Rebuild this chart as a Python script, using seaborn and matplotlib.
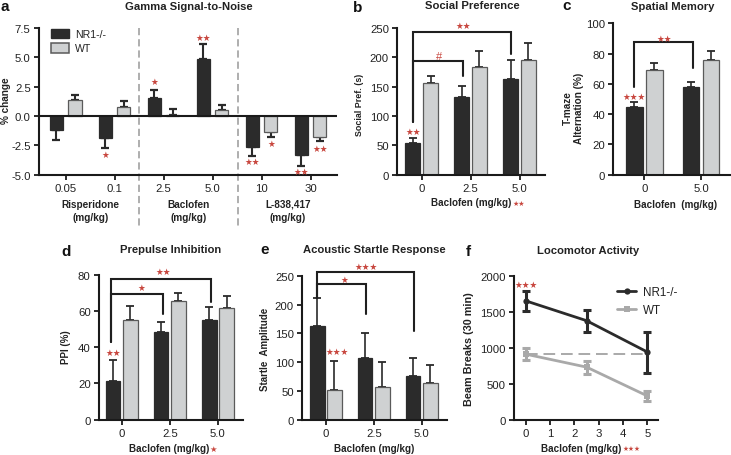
import matplotlib
matplotlib.use("Agg")
import matplotlib.pyplot as plt
import pandas as pd
import seaborn as sns

# ================= DATA =================
GROUPS = ["NR1-/-", "WT"]

a_doses = ["0.05", "0.1", "2.5", "5.0", "10", "30"]
a_nr1 = [-1.15, -1.85, 1.55, 4.9, -2.65, -3.3]
a_wt = [1.35, 0.8, 0.1, 0.55, -1.4, -1.75]
a_nr1_end = [-2.05, -2.75, 2.25, 6.1, -3.4, -4.25]
a_wt_end = [1.8, 1.3, 0.6, 0.9, -1.8, -2.15]
a_yticks = [-5.0, -2.5, 0.0, 2.5, 5.0, 7.5]

b_doses = ["0", "2.5", "5.0"]
b_nr1 = [54, 132, 163]
b_wt = [157, 183, 195]
b_nr1_end = [62, 152, 195]
b_wt_end = [168, 210, 225]
b_yticks = [0, 50, 100, 150, 200, 250]

c_doses = ["0", "5.0"]
c_nr1 = [44.5, 58]
c_wt = [69, 76]
c_nr1_end = [48, 61.5]
c_wt_end = [73.5, 81.5]
c_yticks = [0, 20, 40, 60, 80, 100]

d_doses = ["0", "2.5", "5.0"]
d_nr1 = [21.5, 48.5, 55]
d_wt = [55, 65.5, 61.5]
d_nr1_end = [33, 54, 62]
d_wt_end = [63, 70, 68]
d_yticks = [0, 20, 40, 60, 80]

e_doses = ["0", "2.5", "5.0"]
e_nr1 = [162, 108, 77]
e_wt = [52, 57, 64]
e_nr1_end = [212, 150, 108]
e_wt_end = [103, 100, 95]
e_yticks = [0, 50, 100, 150, 200, 250]

f_doses = [0, 2.5, 5]
f_nr1 = [1650, 1375, 940]
f_wt = [910, 730, 330]
f_nr1_low = [1510, 1215, 650]
f_nr1_high = [1790, 1530, 1225]
f_wt_low = [830, 640, 260]
f_wt_high = [990, 820, 400]
f_reference = 910
f_yticks = [0, 500, 1000, 1500, 2000]

# brackets: x-left, y-left-end, y-top, x-right, y-right-end
b_brackets = [(-0.18, 89, 244, 1.82, 205), (-0.18, 89, 193, 0.84, 168)]
c_brackets = [(-0.19, 58, 87.5, 0.85, 70.5)]
d_brackets = [(-0.22, 42.6, 77.6, 1.85, 64.7), (-0.22, 42.6, 69.3, 0.85, 58.3)]
e_brackets = [(-0.19, 212, 256, 1.83, 155), (-0.19, 212, 235, 0.84, 184)]

# significance marks: x, y, text
a_marks = [(0.81, -3.27, "★"), (1.81, 2.95, "★"), (2.81, 6.7, "★★"), (3.81, -3.9, "★★"),
           (4.19, -2.3, "★"), (4.81, -4.7, "★★"), (5.19, -2.73, "★★")]
b_marks = [(-0.18, 74, "★★"), (0.84, 254, "★★"), (0.35, 203, "#")]
c_marks = [(0.35, 90, "★★"), (-0.18, 52, "★★★")]
d_marks = [(-0.175, 37, "★★"), (0.41, 73, "★"), (0.86, 82, "★★")]
e_marks = [(0.84, 266, "★★★"), (0.395, 243, "★"), (0.23, 118, "★★★")]
f_marks = [(0, 1884, "★★★")]

# ================= STYLE =================
W, H = 731, 456
DARK = "#2b2b2b"
LIGHT = "#cfd1d2"
EDGE_WT = "#5a5a5a"
GREY_LINE = "#a9a9a9"
RED = "#c8473f"
TEXT = "#222222"
FONTS = ["Liberation Sans", "DejaVu Sans"]

sns.set_theme(style="ticks")
plt.rcParams["font.family"] = FONTS
plt.rcParams["axes.unicode_minus"] = False
plt.rcParams["text.color"] = TEXT

fig = plt.figure(figsize=(W / 100, H / 100), dpi=100, facecolor="white")


def make_axes(left, top, right, bottom):
    ax = fig.add_axes([left / W, 1 - bottom / H, (right - left) / W, (bottom - top) / H])
    ax.patch.set_alpha(0)
    return ax


def put_text(x, y, s, **kw):
    kw.setdefault("ha", "center")
    kw.setdefault("va", "center")
    kw.setdefault("color", TEXT)
    fig.text(x / W, 1 - y / H, s, **kw)


def style_axes(ax, yticks, ylim, xlim, ylabel, yl_x, yl_y, xlabel, xl_x, xl_y, fmt="{:g}", yl_size=7.0):
    ax.set_xlim(*xlim)
    ax.set_ylim(*ylim)
    ax.set_yticks(yticks)
    ax.set_yticklabels([fmt.format(t) for t in yticks])
    sns.despine(ax=ax)
    for side in ["left", "bottom"]:
        ax.spines[side].set_linewidth(1.5)
        ax.spines[side].set_color("#1a1a1a")
    ax.tick_params(axis="both", length=3.5, width=1.3, labelsize=8.2, pad=2.5,
                   color="#1a1a1a", labelcolor=TEXT)
    box = ax.get_position()
    l, r = box.x0 * W, box.x1 * W
    t, b = (1 - box.y1) * H, (1 - box.y0) * H
    ax.set_ylabel(ylabel, fontsize=yl_size, fontweight="bold", color=TEXT, linespacing=1.15, va="center")
    ax.yaxis.set_label_coords((yl_x - l) / (r - l), (b - yl_y) / (b - t))
    ax.set_xlabel(xlabel, fontsize=7.1, fontweight="bold", color=TEXT, linespacing=1.15, va="center")
    ax.xaxis.set_label_coords((xl_x - l) / (r - l), (b - xl_y) / (b - t))


def draw_bars(ax, doses, nr1, wt, nr1_end, wt_end, width, gap, err_lw=1.2):
    df = pd.DataFrame({
        "dose": list(doses) * 2,
        "value": list(nr1) + list(wt),
        "group": [GROUPS[0]] * len(doses) + [GROUPS[1]] * len(doses),
    })
    sns.barplot(data=df, x="dose", y="value", hue="group", order=doses, hue_order=GROUPS,
                palette=[DARK, LIGHT], width=width, gap=gap, errorbar=None, legend=False,
                saturation=1, ax=ax, zorder=2)
    for container, values, ends in zip(ax.containers, [nr1, wt], [nr1_end, wt_end]):
        for patch, v, end in zip(container, values, ends):
            patch.set_edgecolor(DARK if container is ax.containers[0] else EDGE_WT)
            patch.set_linewidth(0.9)
            low, high = max(v - end, 0), max(end - v, 0)
            ax.errorbar(patch.get_x() + patch.get_width() / 2, v, yerr=[[low], [high]],
                        color="#2a2a2a", capsize=3.2, elinewidth=err_lw, capthick=err_lw + 0.1, zorder=1)


def draw_brackets(ax, brackets):
    for x0, y0, top, x1, y1 in brackets:
        ax.plot([x0, x0, x1, x1], [y0, top, top, y1], color="#1f1f1f", lw=1.5,
                solid_joinstyle="miter", clip_on=False, zorder=4)


def draw_marks(ax, marks, size=6.2):
    for x, y, s in marks:
        ax.text(x, y, s, color=RED, fontsize=8 if s == "#" else size, ha="center", va="center",
                family=FONTS, clip_on=False, zorder=5)


# ================= PANEL A =================
ax_a = make_axes(39, 29, 337, 175.7)
draw_bars(ax_a, a_doses, a_nr1, a_wt, a_nr1_end, a_wt_end, 0.76, 0.3, err_lw=1.5)
style_axes(ax_a, a_yticks, (-5, 7.5), (-0.545, 5.54), "% change", 6, 101, "", 190, 205, "{:.1f}", yl_size=7.2)
ax_a.axhline(0, color="#1a1a1a", lw=1.5, zorder=3)
for sep in [1.49, 3.52]:
    ax_a.plot([sep, sep], [7.5, -9.5], color="#a8a8a8", lw=1.3, ls=(0, (4, 2.2)), clip_on=False, zorder=0)
draw_marks(ax_a, a_marks)
handles_a = [plt.Rectangle((0, 0), 1, 1, facecolor=DARK, edgecolor=DARK),
             plt.Rectangle((0, 0), 1, 1, facecolor=LIGHT, edgecolor=EDGE_WT, linewidth=1.1)]
ax_a.legend(handles_a, GROUPS, loc="upper left", bbox_to_anchor=(0.04, 0.993), frameon=False,
            fontsize=7.6, handlelength=1.7, handleheight=1.0, handletextpad=0.55,
            labelspacing=0.35, borderpad=0, borderaxespad=0)
for x, y, s in [(90.7, 205, "Risperidone"), (90.7, 218, "(mg/kg)"),
                (188.5, 205, "Baclofen"), (188.5, 218, "(mg/kg)"),
                (288, 205, "L-838,417"), (288, 218, "(mg/kg)")]:
    put_text(x, y, s, fontsize=7.2, fontweight="bold")

# ================= PANEL B =================
ax_b = make_axes(397.3, 29, 545, 175.7)
draw_bars(ax_b, b_doses, b_nr1, b_wt, b_nr1_end, b_wt_end, 0.72, 0.15)
style_axes(ax_b, b_yticks, (0, 250), (-0.5, 2.52), "Social Pref. (s)", 359, 105,
           "Baclofen (mg/kg)", 470.7, 203, yl_size=6.4)
draw_brackets(ax_b, b_brackets)
draw_marks(ax_b, b_marks)
put_text(518.5, 204, "★★", color=RED, fontsize=5, family=FONTS)

# ================= PANEL C =================
ax_c = make_axes(613.3, 24.3, 730.5, 175.7)
draw_bars(ax_c, c_doses, c_nr1, c_wt, c_nr1_end, c_wt_end, 0.706, 0.167)
style_axes(ax_c, c_yticks, (0, 100), (-0.547, 1.52), "T-maze\nAlternation (%)", 573.5, 108,
           "Baclofen  (mg/kg)", 676, 205, yl_size=7.2)
draw_brackets(ax_c, c_brackets)
draw_marks(ax_c, c_marks)

# ================= PANEL D =================
ax_d = make_axes(99, 275.7, 243, 420.7)
draw_bars(ax_d, d_doses, d_nr1, d_wt, d_nr1_end, d_wt_end, 0.72, 0.15)
style_axes(ax_d, d_yticks, (0, 80), (-0.47, 2.52), "PPI (%)", 66, 347,
           "Baclofen (mg/kg)", 169, 449)
draw_brackets(ax_d, d_brackets)
draw_marks(ax_d, d_marks)
put_text(213.5, 450, "★", color=RED, fontsize=6, family=FONTS)

# ================= PANEL E =================
ax_e = make_axes(302.3, 276.7, 446.7, 421)
draw_bars(ax_e, e_doses, e_nr1, e_wt, e_nr1_end, e_wt_end, 0.72, 0.15)
style_axes(ax_e, e_yticks, (0, 250), (-0.49, 2.52), "Startle  Amplitude", 265, 349,
           "Baclofen (mg/kg)", 374, 449)
draw_brackets(ax_e, e_brackets)
draw_marks(ax_e, e_marks)

# ================= PANEL F =================
ax_f = make_axes(514, 276.7, 658.3, 420.7)
ax_f.plot([f_doses[0], f_doses[-1]], [f_reference, f_reference], color=GREY_LINE, lw=1.4,
          ls=(0, (6, 3)), zorder=1)
line_df = pd.DataFrame({"dose": f_doses * 2, "beam": f_nr1 + f_wt,
                        "group": [GROUPS[0]] * 3 + [GROUPS[1]] * 3})
sns.lineplot(data=line_df, x="dose", y="beam", hue="group", hue_order=GROUPS, style="group",
             markers={GROUPS[0]: "o", GROUPS[1]: "s"}, dashes=False, markersize=4.5,
             markeredgewidth=0, palette=[DARK, GREY_LINE], lw=2, errorbar=None, ax=ax_f, zorder=3)
for y, low, high, color in [(f_wt, f_wt_low, f_wt_high, GREY_LINE), (f_nr1, f_nr1_low, f_nr1_high, DARK)]:
    ax_f.errorbar(f_doses, y, yerr=[[v - l for v, l in zip(y, low)], [h - v for v, h in zip(y, high)]],
                  fmt="none", ecolor=color, elinewidth=2.2, capsize=3.2, capthick=2.2, zorder=2)
style_axes(ax_f, f_yticks, (0, 2000), (-0.49, 5.45), "Beam Breaks (30 min)", 469, 349,
           "Baclofen (mg/kg)", 581, 449, yl_size=7.8)
ax_f.set_xticks([0, 1, 2, 3, 4, 5])
ax_f.set_xticklabels(["0", "1", "2", "3", "4", "5"])
draw_marks(ax_f, f_marks)
ax_f.legend(loc="upper left", bbox_to_anchor=(0.715, 0.93), frameon=False, fontsize=8.4,
            handlelength=1.6, handletextpad=0.6, labelspacing=0.5, borderpad=0, borderaxespad=0)
put_text(632, 449.5, "★★★", color=RED, fontsize=4.8, family=FONTS)

# ================= TITLES AND PANEL LETTERS =================
titles = ["Gamma Signal-to-Noise", "Social Preference", "Spatial Memory",
          "Prepulse Inhibition", "Acoustic Startle Response", "Locomotor Activity"]
title_x = [189, 472, 673, 171, 374, 588]
title_y = [7, 6, 7, 250, 250, 251]
for s, x, y in zip(titles, title_x, title_y):
    put_text(x, y, s, fontsize=8.1, fontweight="bold")

letters = ["a", "b", "c", "d", "e", "f"]
letter_x = [5, 358, 567, 66, 265, 468]
letter_y = [7, 8, 6, 252, 250, 252]
for s, x, y in zip(letters, letter_x, letter_y):
    put_text(x, y, s, fontsize=11, fontweight="bold", color="#111111")

fig.savefig("out.png", dpi=100)
